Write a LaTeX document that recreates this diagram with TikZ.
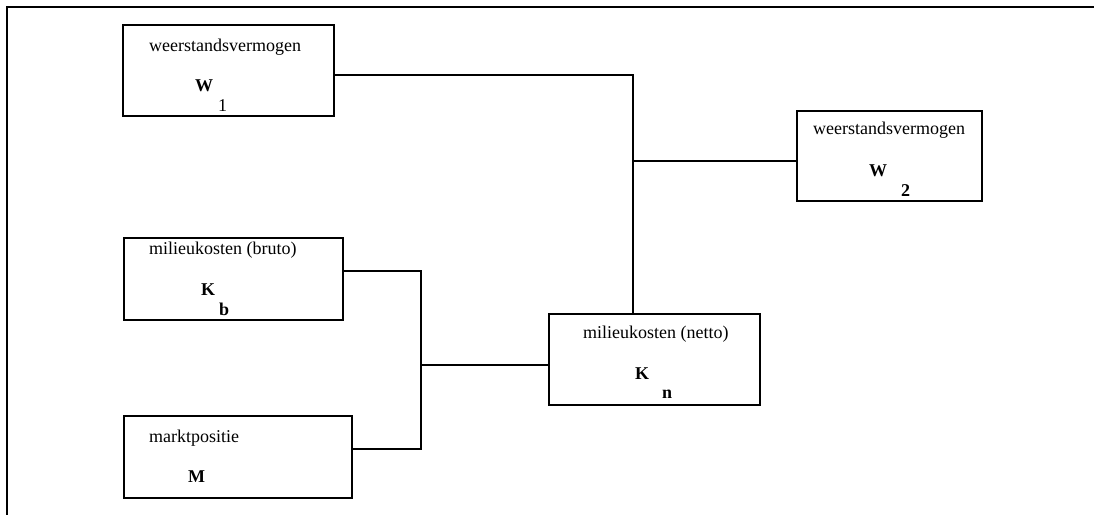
\documentclass[tikz,border=0pt]{standalone}
\usepackage{fontspec}
\setmainfont{Liberation Serif}
\usepackage{tikz}
\usetikzlibrary{positioning,calc}
\tikzset{
  box/.style={draw, line width=1.2pt, inner sep=0pt, outer sep=0pt},
  ttl/.style={anchor=base west, inner sep=0pt, font=\fontsize{18}{21}\selectfont},
  sym/.style={anchor=base west, inner sep=0pt, font=\fontsize{18}{21}\selectfont\bfseries},
  con/.style={line width=1.2pt},
}

\begin{document}
\begin{tikzpicture}[x=1pt, y=-1pt]
\useasboundingbox (0,0) rectangle (1094,515);
% frame
\coordinate (ftl) at (7,7);
\draw[line width=2.2pt] (1094,7) -- (ftl) -- (7,515);
% boxes
\node[box, minimum width=211pt, minimum height=91pt] (w1) at (228.5,70.5) {};
\node[box, minimum width=185pt, minimum height=90pt] (w2) at (889.5,156) {};
\node[box, minimum width=219pt, minimum height=82pt] (kb) at (233.5,279) {};
\node[box, minimum width=228pt, minimum height=82pt] (mp) at (238,457) {};
\node[box, minimum width=211pt, minimum height=91pt] (kn) at (654.5,359.5) {};
% texts
\node[ttl] (w1t) at (149,51) {weerstandsvermogen};
\node[sym] (w1s) at (195,91) {W};
\node[ttl] (w1i) at (218,111) {1};
\node[ttl] (w2t) at (813,134) {weerstandsvermogen};
\node[sym] (w2s) at (869,176) {W};
\node[sym] (w2i) at (901,196) {2};
\node[ttl] (kbt) at (149,254) {milieukosten (bruto)};
\node[sym] (kbs) at (201,295) {K};
\node[sym] (kbi) at (219,315) {b};
\node[ttl] (mpt) at (149,442) {marktpositie};
\node[sym] (mps) at (188,482) {M};
\node[ttl] (knt) at (583,338) {milieukosten (netto)};
\node[sym] (kns) at (635,379) {K};
\node[sym] (kni) at (662,398) {n};
% connectors
\coordinate (j1) at (633,75);
\coordinate (j2) at (633,161);
\coordinate (j3) at (421,271);
\coordinate (j4) at (421,449);
\coordinate (j5) at (421,365);
\draw[con] (j1 -| w1.east) -- (j1) -- (j1 |- kn.north);
\draw[con] (j2) -- (j2 -| w2.west);
\draw[con] (j3 -| kb.east) -- (j3) -- (j4) -- (j4 -| mp.east);
\draw[con] (j5) -- (j5 -| kn.west);
\end{tikzpicture}
\end{document}
